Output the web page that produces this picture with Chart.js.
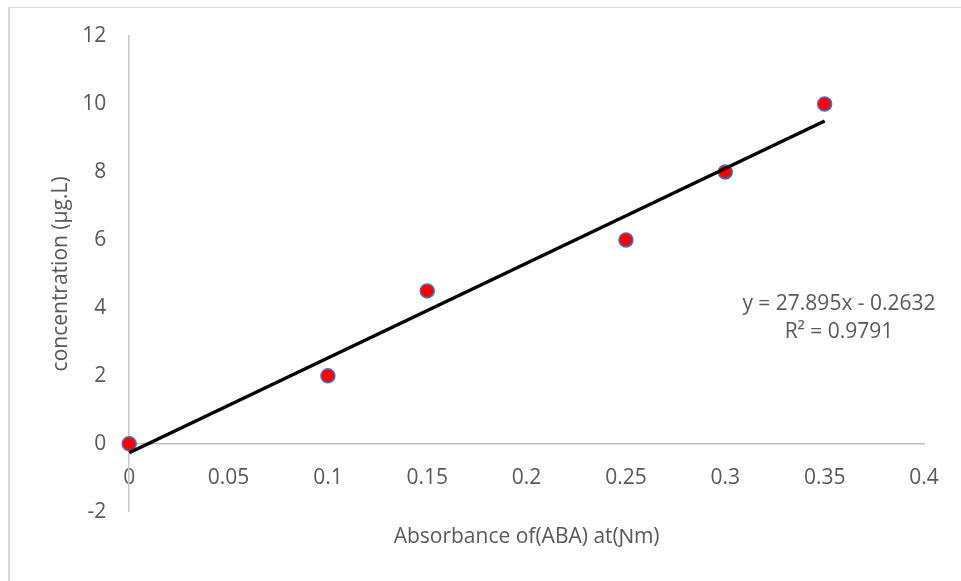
<!DOCTYPE html>
<html lang="en">
<head>
  <meta charset="UTF-8" />
  <title>ABA standard curve</title>
  <script src="https://cdn.jsdelivr.net/npm/chart.js"></script>
  <style>
    * { margin: 0; padding: 0; box-sizing: border-box; }
    body { background: #fff; width: 961px; height: 581px; overflow: hidden; }
    .frame {
      position: absolute; left: 8px; top: 7px; width: 1000px; height: 600px;
      border-left: 2px solid #d9d9d9; border-top: 1px solid #d9d9d9;
    }
    .chart-box { position: absolute; left: 0; top: 0; width: 961px; height: 581px; }
  </style>
</head>
<body>
  <div class="frame"></div>
  <div class="chart-box"><canvas id="absChart"></canvas></div>

  <script>
    // measured points
    const absorbance = [0, 0.1, 0.15, 0.25, 0.3, 0.35];
    const concentration = [0, 2, 4.5, 6, 8, 10];

    // trendline as printed on the chart
    const trendSlope = 27.895;
    const trendIntercept = -0.2632;
    const trendLabel = ['y = 27.895x - 0.2632', 'R² = 0.9791'];

    const xTickLabels = ['0', '0.05', '0.1', '0.15', '0.2', '0.25', '0.3', '0.35', '0.4'];
    const yTickLabels = ['-2', '0', '2', '4', '6', '8', '10', '12'];

    const textColor = '#595959';
    const fontFamily = "'Open Sans', sans-serif";

    const points = absorbance.map((x, i) => ({ x, y: concentration[i] }));
    const xFirst = absorbance[0];
    const xLast = absorbance[absorbance.length - 1];
    const trendPoints = [
      { x: xFirst, y: trendSlope * xFirst + trendIntercept },
      { x: xLast, y: trendSlope * xLast + trendIntercept }
    ];

    // equation text next to the trendline
    const equationPlugin = {
      id: 'equation',
      afterDatasetsDraw(chart) {
        const ctx = chart.ctx;
        ctx.save();
        ctx.font = '21px ' + fontFamily;
        ctx.fillStyle = textColor;
        ctx.textAlign = 'center';
        ctx.textBaseline = 'middle';
        ctx.fillText(trendLabel[0], 839, 304);
        ctx.fillText(trendLabel[1], 839, 332);
        ctx.restore();
      }
    };

    new Chart(document.getElementById('absChart'), {
      type: 'scatter',
      data: {
        datasets: [
          {
            label: 'Trend',
            data: trendPoints,
            showLine: true,
            borderColor: '#000',
            borderWidth: 3.5,
            pointRadius: 0,
            clip: false
          },
          {
            label: 'Concentration',
            data: points,
            backgroundColor: '#ff0000',
            borderColor: '#4472c4',
            borderWidth: 1.5,
            pointRadius: 7,
            clip: false
          }
        ]
      },
      options: {
        responsive: true,
        maintainAspectRatio: false,
        animation: false,
        layout: { padding: { left: 20, top: 36, right: 37, bottom: 27 } },
        plugins: {
          legend: { display: false },
          tooltip: { enabled: false },
          title: {
            display: true,
            position: 'bottom',
            fullSize: false,
            text: 'Absorbance of(ABA) at(Ɲm)',
            color: textColor,
            font: { family: fontFamily, size: 21, weight: 'normal' },
            padding: { top: 13, bottom: 4 }
          }
        },
        scales: {
          x: {
            type: 'linear',
            position: { y: 0 },
            min: 0,
            max: 0.4,
            afterFit: s => { s.height = 0; },
            grid: { display: false, drawTicks: false },
            border: { display: true, color: '#bfbfbf', width: 1.5 },
            ticks: {
              stepSize: 0.05,
              padding: 22,
              color: textColor,
              font: { family: fontFamily, size: 21 },
              callback: (v, i) => xTickLabels[i]
            }
          },
          y: {
            type: 'linear',
            min: -2,
            max: 12,
            grid: { display: false, drawTicks: false },
            border: { display: true, color: '#c8c8c8', width: 1.5 },
            ticks: {
              stepSize: 2,
              padding: 23,
              color: textColor,
              font: { family: fontFamily, size: 21 },
              callback: (v, i) => yTickLabels[i]
            },
            title: {
              display: true,
              text: 'concentration (µg.L)',
              color: textColor,
              font: { family: fontFamily, size: 21 },
              padding: { top: 28, bottom: -14 }
            }
          }
        }
      },
      plugins: [equationPlugin]
    });
  </script>
</body>
</html>
